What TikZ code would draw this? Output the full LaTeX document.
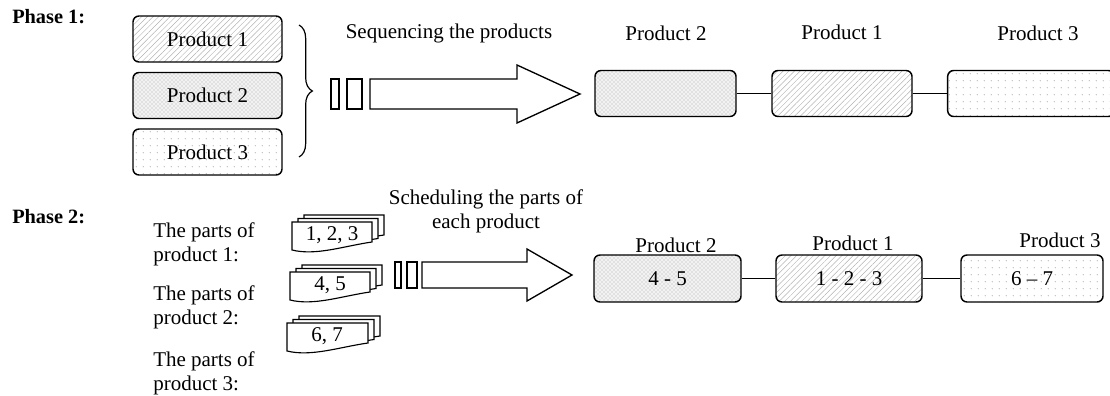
\documentclass[tikz,border=0pt]{standalone}
\usepackage{fontspec}
\setmainfont{Liberation Serif}
\usetikzlibrary{patterns,patterns.meta,decorations.pathreplacing}

% outline of one sheet of a document stack: top-left corner, width
\newcommand\docpath[3]{(#1,#2) -- ++(#3,0) -- ++(0,20)
  .. controls +(-0.35*#3,4) and +(0.3*#3,6) .. (#1,#2+28) -- cycle}
% three sheets, drawn from the back to the front
\newcommand\docstack[3]{%
  \path[doc] \docpath{#1+12}{#2-7}{#3};
  \path[doc] \docpath{#1+6}{#2-3.5}{#3};
  \path[doc] \docpath{#1}{#2}{#3};}

\begin{document}
\begin{tikzpicture}[x=0.75pt,y=-0.75pt,
  every node/.style={font=\fontsize{15.75}{18}\selectfont, inner sep=0pt},
  phase/.style={font=\fontsize{15.25}{18}\selectfont\bfseries, anchor=west},
  pbox/.style={draw, line width=1.1pt, rounded corners=4.5pt, minimum height=34.5pt},
  hatchfill/.style={pattern={Lines[angle=45,distance=3pt,line width=0.35pt]}, pattern color=gray!60},
  checkfill/.style={preaction={fill=gray!10}, pattern=crosshatch dots, pattern color=gray!65},
  dotfill/.style={pattern={Dots[distance=5.4pt,radius=0.5pt]}, pattern color=gray!60},
  link/.style={line width=1pt},
  hollow/.style={draw, line width=1pt, fill=white, line join=miter},
  doc/.style={draw, line width=0.85pt, fill=white},
]
\useasboundingbox (0,0) rectangle (1110,396);

% ---------------- Phase 1 ----------------
\node[phase] (ph1) at (12,17) {Phase 1:};

\node[pbox, hatchfill, minimum width=111.75pt] (l1) at (207.5,39)   {Product 1};
\node[pbox, checkfill, minimum width=111.75pt] (l2) at (207.5,95.5) {Product 2};
\node[pbox, dotfill,   minimum width=111.75pt] (l3) at (207.5,152)  {Product 3};

\coordinate (bt) at (299,25);
\coordinate (bb) at (299,157);
\draw[decorate, decoration={brace, amplitude=10pt}, line width=0.9pt] (bt) -- (bb);

\node (seq) at (449,33) {Sequencing the products};

\draw[hollow] (331,79) rectangle (339,109);
\draw[hollow] (347,79) rectangle (362,109);
\draw[hollow] (370,79) -- (517,79) -- (517,65) -- (580,94) -- (517,123)
  -- (517,109) -- (370,109) -- cycle;

\node (h1) at (666,33)  {Product 2};
\node (h2) at (842,32)  {Product 1};
\node (h3) at (1038,33) {Product 3};

\node[pbox, checkfill, minimum width=105.75pt] (s1) at (665.5,93.5) {};
\node[pbox, hatchfill, minimum width=105pt]    (s2) at (842,93.5)   {};
\node[pbox, dotfill,   minimum width=125pt]    (s3) at (1031,93.5)  {};
\draw[link] (s1) -- (s2);
\draw[link] (s2) -- (s3);

% ---------------- Phase 2 ----------------
\node[phase] (ph2) at (12,217) {Phase 2:};

\node[align=left, anchor=west] (q1) at (153,244) {The parts of\\product 1:};
\node[align=left, anchor=west] (q2) at (153,307) {The parts of\\product 2:};
\node[align=left, anchor=west] (q3) at (153,373) {The parts of\\product 3:};

\docstack{292}{222}{80}
\node (d1) at (332,235) {1, 2, 3};
\docstack{290}{272}{80}
\node (d2) at (330,285) {4, 5};
\docstack{287}{323}{81}
\node (d3) at (327,336) {6, 7};

\node[align=center] (sch) at (486,211) {Scheduling the parts of\\each product};

\draw[hollow] (395,262) rectangle (401,288);
\draw[hollow] (407,262) rectangle (417,288);
\draw[hollow] (422,262) -- (527,262) -- (527,249) -- (572,275) -- (527,301)
  -- (527,288) -- (422,288) -- cycle;

\node (g1) at (676,245)  {Product 2};
\node (g2) at (853,243)  {Product 1};
\node (g3) at (1060,240) {Product 3};

\node[pbox, checkfill, minimum width=110.25pt, minimum height=35.25pt] (r1) at (667.5,278.5) {4 - 5};
\node[pbox, hatchfill, minimum width=109.5pt,  minimum height=35.25pt] (r2) at (849,278.5)   {1 - 2 - 3};
\node[pbox, dotfill,   minimum width=106.5pt,  minimum height=35.25pt] (r3) at (1032,278.5)  {6 -- 7};
\draw[link] (r1) -- (r2);
\draw[link] (r2) -- (r3);
\end{tikzpicture}
\end{document}
